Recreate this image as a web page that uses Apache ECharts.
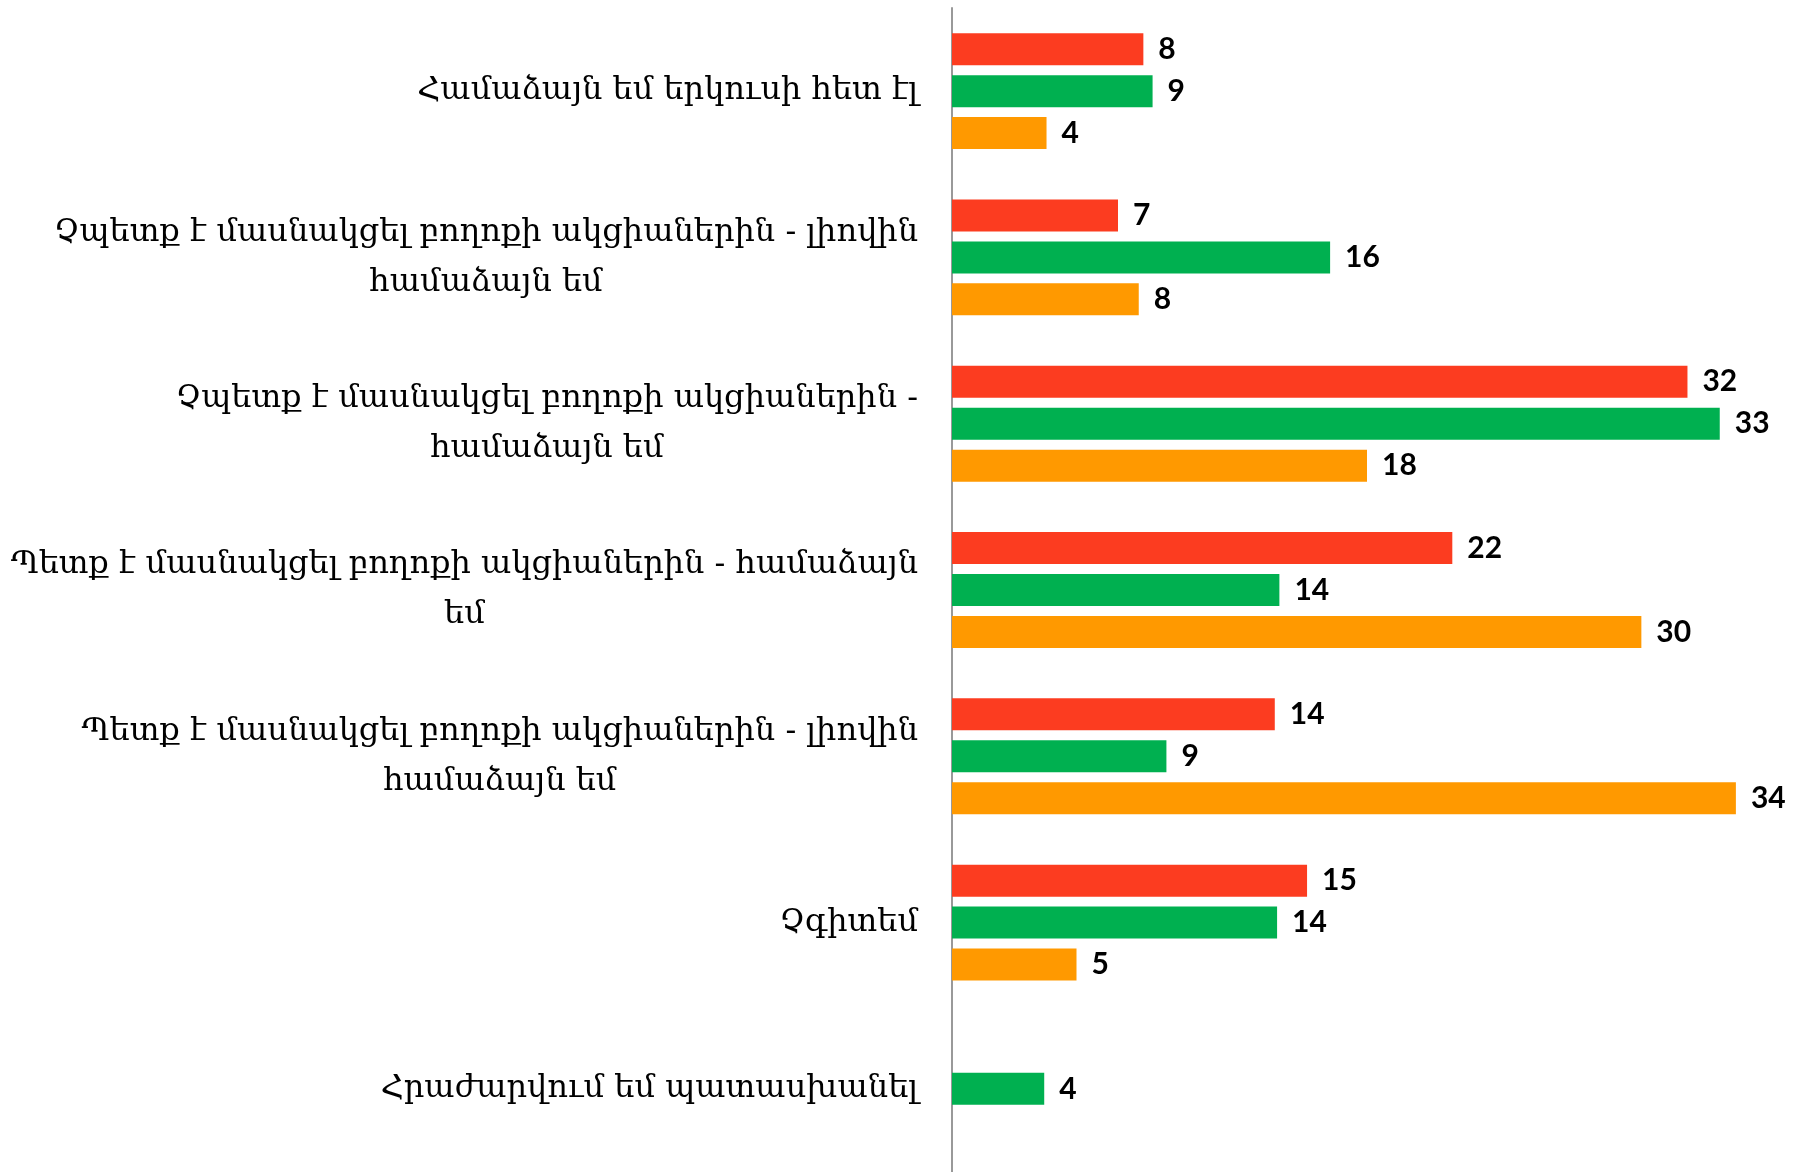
<!DOCTYPE html>
<html>
<head>
    <meta charset="utf-8">
    <title>Bar chart</title>
    <script src="https://cdn.jsdelivr.net/npm/echarts@6/dist/echarts.min.js"></script>
    <style>
        html, body { margin: 0; padding: 0; background: #fff; }
        #chart { width: 1806px; height: 1172px; }
    </style>
</head>
<body>
    <div id="chart"></div>
    <script>
        // categories, top to bottom; '\n' marks where the label wraps
        var categories = [
            'Համաձայն եմ երկուսի հետ էլ',
            'Չպետք է մասնակցել բողոքի ակցիաներին - լիովին\nհամաձայն եմ',
            'Չպետք է մասնակցել բողոքի ակցիաներին -\nհամաձայն եմ',
            'Պետք է մասնակցել բողոքի ակցիաներին - համաձայն\nեմ',
            'Պետք է մասնակցել բողոքի ակցիաներին - լիովին\nհամաձայն եմ',
            'Չգիտեմ',
            'Հրաժարվում եմ պատասխանել'
        ];
        // bar lengths (labels show them rounded)
        var redValues = [8.3, 7.2, 31.9, 21.7, 14.0, 15.4, null];
        var greenValues = [8.7, 16.4, 33.3, 14.2, 9.3, 14.1, 4.0];
        var orangeValues = [4.1, 8.1, 18.0, 29.9, 34.0, 5.4, null];

        var chart = echarts.init(document.getElementById('chart'));

        function barSeries(data, color) {
            return {
                type: 'bar',
                data: data,
                barWidth: 32,
                barGap: '31%',
                itemStyle: { color: color },
                label: {
                    show: true,
                    position: 'right',
                    distance: 15,
                    fontFamily: 'Lato',
                    fontWeight: 'bold',
                    fontSize: 30,
                    color: '#000',
                    formatter: function (p) { return Math.round(p.value); }
                }
            };
        }

        chart.setOption({
            animation: false,
            grid: { left: 952, right: 24, top: 8, height: 1169 },
            xAxis: {
                type: 'value',
                min: 0,
                max: 36,
                show: false,
                splitLine: { show: false }
            },
            yAxis: {
                type: 'category',
                inverse: true,
                data: categories,
                axisLine: { show: true, lineStyle: { color: '#999', width: 2 } },
                axisTick: { show: false },
                axisLabel: {
                    margin: 34,
                    formatter: function (value) {
                        var lines = value.split('\n');
                        var out = '{a|' + lines[0] + '}';
                        if (lines.length > 1) out += '\n{b|' + lines[1] + '}';
                        return out;
                    },
                    rich: {
                        a: { fontFamily: 'DejaVu Serif', fontSize: 32, color: '#000', lineHeight: 50, align: 'right' },
                        b: { fontFamily: 'DejaVu Serif', fontSize: 32, color: '#000', lineHeight: 50, align: 'center' }
                    }
                }
            },
            series: [
                barSeries(redValues, '#FC3C20'),
                barSeries(greenValues, '#00B050'),
                barSeries(orangeValues, '#FF9900')
            ]
        });
    </script>
</body>
</html>
